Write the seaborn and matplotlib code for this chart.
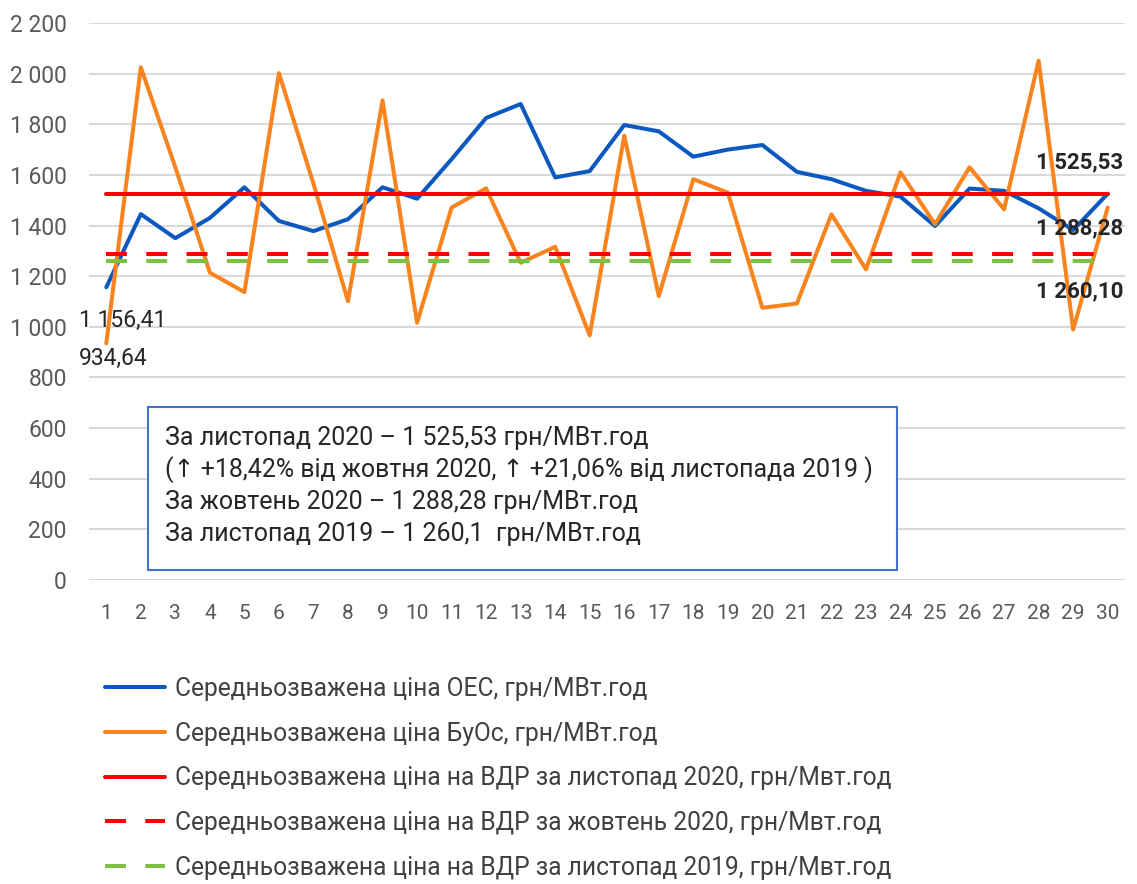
import numpy as np
import pandas as pd
import matplotlib
matplotlib.use("Agg")
import matplotlib.pyplot as plt
import seaborn as sns

# дані
days = list(range(1, 31))
oes = [1156.41, 1445, 1350, 1430, 1551, 1418, 1378, 1425, 1551, 1506,
       1662, 1825, 1880, 1590, 1615, 1797, 1772, 1672, 1700, 1718,
       1612, 1583, 1537, 1514, 1398, 1546, 1537, 1468, 1382, 1525.53]
buos = [934.64, 2025, 1630, 1214, 1137, 2002, 1565, 1101, 1894, 1016,
        1471, 1547, 1253, 1316, 966, 1755, 1121, 1583, 1530, 1075,
        1092, 1444, 1227, 1610, 1405, 1630, 1464, 2051, 989, 1471]
vdr_nov2020 = 1525.53
vdr_oct2020 = 1288.28
vdr_nov2019 = 1260.10

labels = [
    "Середньозважена ціна ОЕС, грн/МВт.год",
    "Середньозважена ціна БуОс, грн/МВт.год",
    "Середньозважена ціна на ВДР за листопад 2020, грн/Мвт.год",
    "Середньозважена ціна на ВДР за жовтень 2020, грн/Мвт.год",
    "Середньозважена ціна на ВДР за листопад 2019, грн/Мвт.год",
]
box_lines = [
    "За листопад 2020 – 1 525,53 грн/МВт.год",
    "(↑ +18,42% від жовтня 2020, ↑ +21,06% від листопада 2019 )",
    "За жовтень 2020 – 1 288,28 грн/МВт.год",
    "За листопад 2019 – 1 260,1  грн/МВт.год",
]

df = pd.DataFrame({"day": days, "oes": oes, "buos": buos,
                   "nov20": [vdr_nov2020] * 30, "oct20": [vdr_oct2020] * 30,
                   "nov19": [vdr_nov2019] * 30})

sns.set_style("white")
plt.rcParams["font.family"] = ["Roboto", "DejaVu Sans"]

fig = plt.figure(figsize=(11.37, 8.84), dpi=100)
ax = fig.add_axes([0.0783, 0.3439, 0.9111, 0.6301])

lw = 2.9
sns.lineplot(data=df, x="day", y="oes", ax=ax, color="#0B59BF", lw=lw, label=labels[0])
sns.lineplot(data=df, x="day", y="buos", ax=ax, color="#F7841E", lw=lw, label=labels[1])
sns.lineplot(data=df, x="day", y="nov20", ax=ax, color="#FF0000", lw=lw, label=labels[2])
l4 = sns.lineplot(data=df, x="day", y="oct20", ax=ax, color="#FF0000", lw=lw, label=labels[3]).lines[-1]
l5 = sns.lineplot(data=df, x="day", y="nov19", ax=ax, color="#7DC142", lw=lw, label=labels[4]).lines[-1]
l4.set_dashes((5.2, 4.8))
l5.set_dashes((5.2, 4.8))

ax.set_xlim(0.5, 30.5)
ax.set_ylim(0, 2200)
ax.set_yticks(range(0, 2201, 200))
ax.set_yticklabels([f"{v:,}".replace(",", " ") for v in range(0, 2201, 200)])
ax.set_xticks(days)
ax.tick_params(axis="y", labelsize=16.5, labelcolor="#595959", length=0, pad=16)
ax.tick_params(axis="x", labelsize=15, labelcolor="#595959", length=0, pad=17)
ax.set_xlabel("")
ax.set_ylabel("")
ax.grid(axis="y", color="#D9D9D9", lw=1.5)
ax.set_axisbelow(True)
for s in ax.spines.values():
    s.set_visible(False)

# підписи значень
ax.text(0.22, 1025, "1 156,41", fontsize=16.5, ha="left", va="center")
ax.text(0.22, 875, "934,64", fontsize=16.5, ha="left", va="center")
ax.text(30.45, vdr_nov2020 + 125, "1 525,53", fontsize=16, fontweight="bold", ha="right", va="center")
ax.text(30.45, vdr_oct2020 + 101, "1 288,28", fontsize=16, fontweight="bold", ha="right", va="center")
ax.text(30.45, vdr_nov2019 - 120, "1 260,10", fontsize=16, fontweight="bold", ha="right", va="center")

# текстовий блок
fig.patches.append(plt.Rectangle((148 / 1137, 1 - 570 / 884), (897 - 148) / 1137, (570 - 407) / 884,
                                 transform=fig.transFigure, fill=True, facecolor="white",
                                 edgecolor="#4472C4", lw=1.5, zorder=5))
for i, t in enumerate(box_lines):
    fig.text(165 / 1137, 1 - (438 + 32 * i) / 884, t, fontsize=18, ha="left", va="center", zorder=6)

ax.legend(loc="upper left", bbox_to_anchor=(105 / 1137, 1 - 677 / 884), bbox_transform=fig.transFigure,
          frameon=False, fontsize=17.7, handlelength=2.45, handletextpad=0.4, labelspacing=0.84,
          borderaxespad=0, borderpad=0, labelcolor="#404040")

plt.savefig("out.png", dpi=100)
plt.close()
